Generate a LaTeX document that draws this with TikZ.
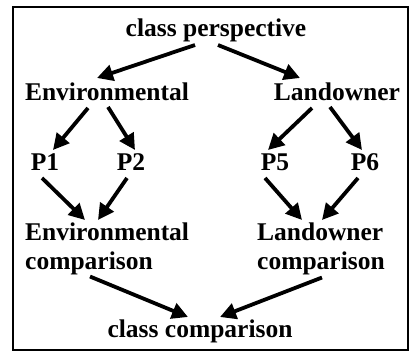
\documentclass[tikz,border=0pt]{standalone}
\usepackage{fontspec}
\setmainfont{Liberation Serif}
\usetikzlibrary{arrows.meta, calc}

\begin{document}
\begin{tikzpicture}[
    x=1pt, y=-1pt,
    term/.style={inner sep=0pt, font=\fontsize{25.5}{29}\selectfont\bfseries},
    arrow/.style={line width=3.8pt, -{Triangle[length=16pt,width=16pt]}}
]
    \useasboundingbox (0,0) rectangle (410,353);
    \draw [line width=2.8pt] (13,7) rectangle (408,350);

    % Nodes
    \node (persp) [term, anchor=base] at (216,37) {class perspective};
    \node (env) [term, anchor=base] at (107,100) {Environmental};
    \node (land) [term, anchor=base] at (337,100) {Landowner};

    \node (p1) [term, anchor=base] at (45,170) {P1};
    \node (p2) [term, anchor=base] at (131,170) {P2};
    \node (p5) [term, anchor=base] at (275,170) {P5};
    \node (p6) [term, anchor=base] at (365,170) {P6};

    \node (envcomp) [term, align=left, anchor=north west] at (25,223) {Environmental\\comparison};
    \node (landcomp) [term, align=left, anchor=north west] at (257,223) {Landowner\\comparison};
    \node (classcomp) [term, anchor=base] at (200,337) {class comparison};

    % Arrows
    \draw [arrow] ($(persp.base)+(-21,8)$) -- ($(env.base)+(-10,-22)$);
    \draw [arrow] ($(persp.base)+(2,8)$) -- ($(land.base)+(-37,-22)$);
    \draw [arrow] ($(env.base)+(-19,8)$) -- ($(p1.base)+(8,-20)$);
    \draw [arrow] ($(env.base)+(1,7)$) -- ($(p2.base)+(4,-20)$);
    \draw [arrow] ($(land.base)+(-25,8)$) -- ($(p5.base)+(-7,-20)$);
    \draw [arrow] ($(land.base)+(-7,7)$) -- ($(p6.base)+(-3,-20)$);
    \draw [arrow] ($(p1.base)+(-3,8)$) -- ($(envcomp.north west)+(60,-3)$);
    \draw [arrow] ($(p2.base)+(-4,8)$) -- ($(envcomp.north west)+(73,-3)$);
    \draw [arrow] ($(p5.base)+(-10,8)$) -- ($(landcomp.north west)+(45,-3)$);
    \draw [arrow] ($(p6.base)+(-7,8)$) -- ($(landcomp.north west)+(65,-3)$);
    \draw [arrow] ($(envcomp.south west)+(65,1)$) -- ($(classcomp.base)+(-12,-20)$);
    \draw [arrow] ($(landcomp.south west)+(65,2)$) -- ($(classcomp.base)+(20,-20)$);

\end{tikzpicture}
\end{document}
